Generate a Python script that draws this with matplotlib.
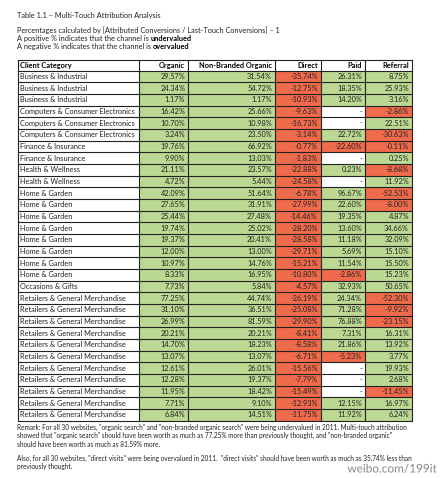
import matplotlib.pyplot as plt
from matplotlib.patches import Rectangle
import matplotlib.patheffects as pe

plt.rcParams['font.family'] = ['Lato', 'DejaVu Sans']

columns = ["Client Category", "Organic", "Non-Branded Organic", "Direct", "Paid", "Referral"]

categories = (["Business & Industrial"] * 3
              + ["Computers & Consumer Electronics"] * 3
              + ["Finance & Insurance"] * 2
              + ["Health & Wellness"] * 2
              + ["Home & Garden"] * 8
              + ["Occasions & Gifts"]
              + ["Retailers & General Merchandise"] * 11)

organic = [29.57, 24.34, 1.17, 16.42, 10.70, 3.24, 19.76, 9.90, 21.11, 4.72,
           42.09, 27.65, 25.44, 19.74, 19.37, 12.00, 10.97, 8.33, 7.73,
           77.25, 31.10, 26.99, 20.21, 14.70, 13.07, 12.61, 12.28, 11.95, 7.71, 6.84]
non_branded = [31.54, 54.72, 1.17, 25.66, 10.98, 23.50, 66.92, 13.03, 23.57, 5.44,
               51.64, 31.91, 27.48, 25.02, 20.41, 13.00, 14.76, 16.95, 5.84,
               44.74, 36.51, 81.59, 20.21, 18.23, 13.07, 26.01, 19.37, 18.42, 9.10, 14.51]
direct = [-35.74, -12.75, -10.93, -9.63, -16.73, -3.14, -0.77, -1.83, -22.88, -24.58,
          -6.78, -27.99, -14.46, -28.20, -28.58, -29.71, -15.21, -10.80, -4.57,
          -26.19, -25.08, -29.90, -8.41, -8.58, -6.71, -15.56, -7.79, -15.49, -12.93, -11.75]
paid = [26.31, 18.35, 14.20, None, None, 22.72, -22.60, None, 0.23, None,
        96.67, 22.60, 19.35, 13.60, 11.18, 5.69, 11.54, -2.86, 32.93,
        24.34, 71.28, 76.88, 7.31, 21.86, -5.23, None, None, None, 12.15, 11.92]
referral = [8.75, 25.93, 3.16, -2.86, 22.51, -30.63, -0.11, 0.25, -8.68, 11.92,
            -52.53, -8.00, 4.87, 34.66, 32.09, 15.10, 15.50, 15.23, 50.65,
            -52.30, -9.92, -23.15, 16.31, 13.92, 3.77, 19.93, 2.68, -11.45, 16.97, 6.24]

GREEN = '#bcd993'
RED = '#ef6b4c'
TXT = '#222222'

fig = plt.figure(figsize=(4.4, 4.78), dpi=100)
ax = fig.add_axes([0, 0, 1, 1])
ax.set_xlim(0, 440)
ax.set_ylim(478, 0)
ax.axis("off")

# header text
fs = 5.3
ax.text(17, 15, "Table 1.1 \u2013 Multi-Touch Attribution Analysis", fontsize=fs, va='center', color=TXT)
ax.text(17, 30, "Percentages calculated by [Attributed Conversions / Last-Touch Conversions] \u2013 1",
        fontsize=fs, va='center', color=TXT)
t = ax.text(17, 38, "A positive % indicates that the channel is ", fontsize=fs, va='center', color=TXT)
ax.annotate("undervalued", xycoords=t, xy=(1, 0.5), va='center', fontsize=fs,
            fontweight='bold', color='black')
t = ax.text(17, 46, "A negative % indicates that the channel is ", fontsize=fs, va='center', color=TXT)
ax.annotate("overvalued", xycoords=t, xy=(1, 0.5), va='center', fontsize=fs,
            fontweight='bold', color='black')

# table geometry
col_x = [17.5, 139.3, 188.3, 275, 320.7, 365, 412]
top = 59.5
head_h = 11.2
row_h = 11.67
n = len(categories)
series = [organic, non_branded, direct, paid, referral]

def cell_y(i):
    return top + head_h + i * row_h

# header
for j, name in enumerate(columns):
    if j == 0:
        ax.text(col_x[0] + 3, top + head_h / 2, name, fontsize=fs, fontweight='bold',
                va='center', ha='left', color='black')
    else:
        ax.text(col_x[j + 1] - 3, top + head_h / 2, name, fontsize=fs, fontweight='bold',
                va='center', ha='right', color='black')

for i in range(n):
    y0 = cell_y(i)
    ax.text(col_x[0] + 3, y0 + row_h / 2, categories[i], fontsize=fs, va='center',
            ha='left', color=TXT)
    for j, vals in enumerate(series):
        v = vals[i]
        x0, x1 = col_x[j + 1], col_x[j + 2]
        if v is None:
            fc, label = 'white', '-'
        else:
            fc = GREEN if v >= 0 else RED
            label = f"{v:.2f}%"
        ax.add_patch(Rectangle((x0, y0), x1 - x0, row_h, facecolor=fc, edgecolor='none'))
        ax.text(x1 - 3, y0 + row_h / 2, label, fontsize=fs, va='center', ha='right', color=TXT)

# grid lines
bottom = cell_y(n)
for k in range(n + 2):
    yy = top if k == 0 else cell_y(k - 1)
    ax.plot([col_x[0], col_x[-1]], [yy, yy], color='#222222', lw=0.8)
for xx in col_x:
    ax.plot([xx, xx], [top, bottom], color='#222222', lw=0.8)

# remarks
rs = 4.7
remark = ["Remark: For all 30 websites, \"organic search\" and \"non-branded organic search\" were being undervalued in 2011. Multi-touch attribution",
          "showed that \"organic search\" should have been worth as much as 77.25% more than previously thought, and \"non-branded organic\"",
          "should have been worth as much as 81.59% more."]
for k, line in enumerate(remark):
    ax.text(17, 427 + k * 8.8, line, fontsize=rs, va='center', color=TXT)
also = ["Also, for all 30 websites, \"direct visits\" were being overvalued in 2011.  \"direct visits\" should have been worth as much as 35.74% less than",
        "previously thought."]
for k, line in enumerate(also):
    ax.text(17, 458 + k * 8.8, line, fontsize=rs, va='center', color=TXT)

ax.text(437, 469, "weibo.com/199it", fontsize=8.5, ha='right', va='center', color='#888888',
        path_effects=[pe.withStroke(linewidth=1.5, foreground='white')])

fig.savefig("out.png", dpi=100)
